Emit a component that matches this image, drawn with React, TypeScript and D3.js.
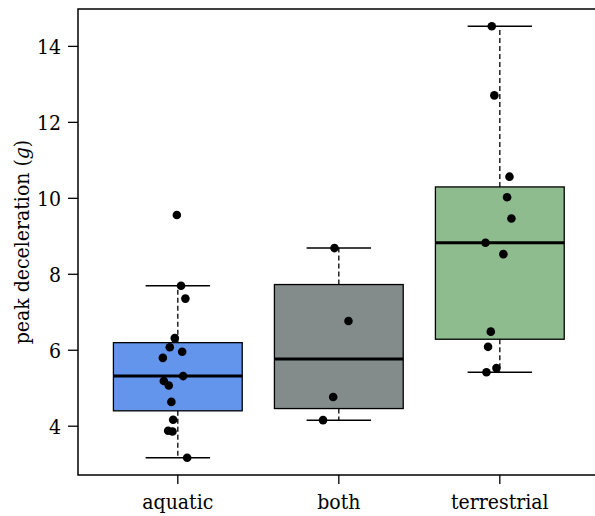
import React from "react";
import * as d3 from "d3";

const categories = ["aquatic", "both", "terrestrial"];
const boxColors = ["#6495ED", "#838B8B", "#8FBC8F"];

// observed values (g)
const aquaticValues = [7.70, 7.36, 6.32, 6.08, 5.96, 5.80, 5.32, 5.19, 5.07, 4.64, 4.17, 3.88, 3.86, 3.17, 9.56];
const aquaticJitter = [0.020, 0.047, -0.019, -0.050, 0.027, -0.093, 0.033, -0.087, -0.056, -0.040, -0.029, -0.060, -0.033, 0.058, -0.006];
const bothValues = [8.69, 6.77, 4.77, 4.16];
const bothJitter = [-0.027, 0.060, -0.035, -0.098];
const terrestrialValues = [14.53, 12.71, 10.57, 10.03, 9.47, 8.83, 8.53, 6.49, 6.09, 5.53, 5.42];
const terrestrialJitter = [-0.050, -0.034, 0.060, 0.045, 0.072, -0.089, 0.022, -0.056, -0.073, -0.021, -0.083];

const yTicks = [4, 6, 8, 10, 12, 14];

const groups = [
  { values: aquaticValues, jitter: aquaticJitter },
  { values: bothValues, jitter: bothJitter },
  { values: terrestrialValues, jitter: terrestrialJitter },
];

function fivenum(v: number[]) {
  const x = [...v].sort((a, b) => a - b);
  const n = x.length;
  const n4 = Math.floor((n + 3) / 2) / 2;
  const d = [1, n4, (n + 1) / 2, n + 1 - n4, n];
  return d.map((p) => 0.5 * (x[Math.floor(p) - 1] + x[Math.ceil(p) - 1]));
}

function boxStats(v: number[]) {
  const [, q1, med, q3] = fivenum(v);
  const iqr = q3 - q1;
  const lo = d3.min(v.filter((d) => d >= q1 - 1.5 * iqr))!;
  const hi = d3.max(v.filter((d) => d <= q3 + 1.5 * iqr))!;
  return { q1, med, q3, lo, hi };
}

const textStyle = { fontFamily: '"DejaVu Serif Condensed", "DejaVu Serif", serif' };

export default function App() {
  const W = 595;
  const H = 516;
  const left = 78;
  const top = 9;
  const bottom = 475;
  const all = groups.flatMap((g) => g.values);
  const vmin = d3.min(all)!;
  const vmax = d3.max(all)!;
  const ext = (vmax - vmin) * 0.04;
  const y = d3.scaleLinear().domain([vmin - ext, vmax + ext]).range([bottom, top]);
  const x = d3.scaleLinear().domain([0.38, 3.62]).range([left, left + 3.24 * 161]);
  const right = x(3.62);
  const fs = 21;

  return (
    <svg width={W} height={H} style={{ position: "absolute", left: 0, top: 0 }}>
      <rect width={W} height={H} fill="white" />
      {groups.map((g, i) => {
        const s = boxStats(g.values);
        const cx = x(i + 1);
        const bw = x(1.4) - x(1);
        const cw = x(1.2) - x(1);
        return (
          <g key={categories[i]}>
            <line x1={cx} x2={cx} y1={y(s.q3)} y2={y(s.hi)} stroke="#000" strokeWidth={1.3} strokeDasharray="5,3" />
            <line x1={cx} x2={cx} y1={y(s.q1)} y2={y(s.lo)} stroke="#000" strokeWidth={1.3} strokeDasharray="5,3" />
            <line x1={cx - cw} x2={cx + cw} y1={y(s.hi)} y2={y(s.hi)} stroke="#000" strokeWidth={1.5} />
            <line x1={cx - cw} x2={cx + cw} y1={y(s.lo)} y2={y(s.lo)} stroke="#000" strokeWidth={1.5} />
            <rect x={cx - bw} y={y(s.q3)} width={2 * bw} height={y(s.q1) - y(s.q3)} fill={boxColors[i]} stroke="#000" strokeWidth={1.3} />
            <line x1={cx - bw} x2={cx + bw} y1={y(s.med)} y2={y(s.med)} stroke="#000" strokeWidth={3} />
          </g>
        );
      })}
      {groups.map((g, i) =>
        g.values.map((v, j) => (
          <circle key={`${i}-${j}`} cx={x(i + 1 + g.jitter[j])} cy={y(v)} r={4.3} fill="#000" />
        ))
      )}
      <rect x={left} y={top} width={right - left} height={bottom - top} fill="none" stroke="#000" strokeWidth={1.5} />
      {yTicks.map((t) => (
        <g key={t}>
          <line x1={left} x2={left - 10} y1={y(t)} y2={y(t)} stroke="#000" strokeWidth={1.3} />
          <text x={left - 17} y={y(t)} dy="0.36em" textAnchor="end" fontSize={fs} fill="#000" style={textStyle}>{t}</text>
        </g>
      ))}
      {categories.map((c, i) => (
        <g key={c}>
          <line x1={x(i + 1)} x2={x(i + 1)} y1={bottom} y2={bottom + 9} stroke="#000" strokeWidth={1.3} />
          <text x={x(i + 1)} y={509} textAnchor="middle" fontSize={fs} fill="#000" style={textStyle}>{c}</text>
        </g>
      ))}
      <text transform={`translate(29,${(top + bottom) / 2}) rotate(-90)`} textAnchor="middle" fontSize={fs} fill="#000" style={textStyle}>
        peak deceleration (<tspan fontStyle="italic">g</tspan>)
      </text>
    </svg>
  );
}
